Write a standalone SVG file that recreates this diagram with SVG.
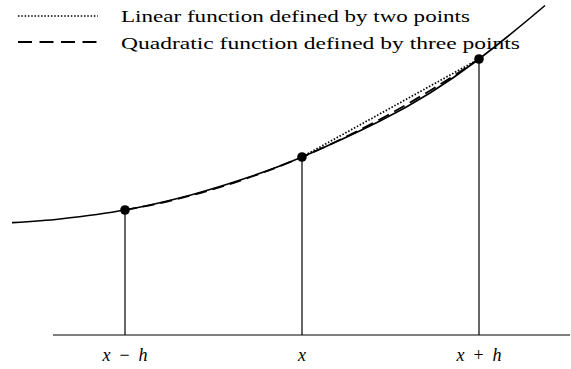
<svg xmlns="http://www.w3.org/2000/svg" width="571" height="369" viewBox="0 0 571 369">
<style>
text{font-family:'Liberation Serif','DejaVu Serif',serif;fill:#000}
.txt{font-size:17.5px}
.math{font-size:18px}
.it{font-style:italic}
.curve{fill:none;stroke:#000;stroke-width:1.6}
.dashed{fill:none;stroke:#000;stroke-width:1.8;stroke-dasharray:12 6}
.dotted{fill:none;stroke:#000;stroke-width:1.7;stroke-dasharray:1.5 1.8}
.thin{fill:none;stroke:#000;stroke-width:1.2}
</style>
<rect width="571" height="369" fill="#fff"/>
<g id="legend">
<line x1="18" y1="16" x2="98" y2="16" class="dotted"/>
<text x="121" y="22" class="txt" textLength="349" lengthAdjust="spacingAndGlyphs">Linear function defined by two points</text>
<line x1="18" y1="42" x2="97" y2="42" class="dashed" style="stroke-dasharray:14 7.5"/>
<text x="121" y="49" class="txt" textLength="399" lengthAdjust="spacingAndGlyphs">Quadratic function defined by three points</text>
</g>
<g id="axis">
<line x1="53" y1="335" x2="570" y2="335" class="thin"/>
<text x="125" y="361" class="math" text-anchor="middle" xml:space="preserve"><tspan class="it">x</tspan>  −  <tspan class="it">h</tspan></text>
<text x="302" y="361" class="math" text-anchor="middle"><tspan class="it">x</tspan></text>
<text x="479" y="361" class="math" text-anchor="middle" xml:space="preserve"><tspan class="it">x</tspan>  +  <tspan class="it">h</tspan></text>
</g>
<g id="connectors">
<line x1="125" y1="210" x2="125" y2="335" class="thin"/>
<line x1="302" y1="157" x2="302" y2="335" class="thin"/>
<line x1="479" y1="59" x2="479" y2="335" class="thin"/>
<path id="function" class="curve" d="M12,222.7 C28,221.74 44,220.79 60,219 C81.67,216.57 103.33,213.97 125,210 C146.67,206.03 168.33,200.96 190,195.2 C210,189.88 230,183.62 250,176.8 C267.33,170.89 284.67,164.44 302,157 C328,145.850 354,134 380,121 C396.67,112.67 413.33,103.43 430,93 C446.33,82.78 462.67,71.43 479,59 C501,42.26 523,24.2 545,5.5"/>
<path id="quadratic" class="dashed" d="M125,210 Q302,179.5 479,59"/>
<line id="linear" x1="302" y1="157" x2="479" y2="59" class="dotted"/>
</g>
<g id="point-left"><circle cx="125" cy="210" r="4.8" fill="#000"/></g>
<g id="point-mid"><circle cx="302" cy="157" r="4.8" fill="#000"/></g>
<g id="point-right"><circle cx="479" cy="59" r="4.8" fill="#000"/></g>
</svg>
